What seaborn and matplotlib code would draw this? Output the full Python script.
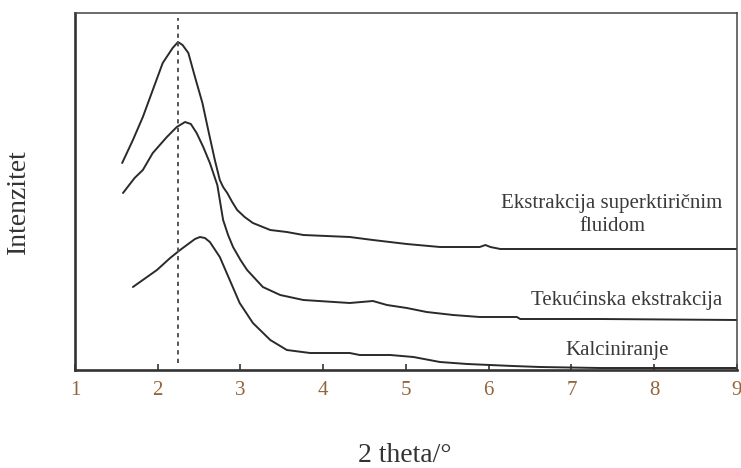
import matplotlib
matplotlib.use("Agg")
import matplotlib.pyplot as plt
import seaborn as sns
import pandas as pd

# Diffraction patterns (2 theta in degrees, intensity in arbitrary units, offset per sample)
sfe_x = [1.57, 1.70, 1.82, 1.94, 2.06, 2.18, 2.245, 2.30, 2.37, 2.45, 2.54, 2.61, 2.69,
         2.75, 2.79, 2.84, 2.90, 2.96, 3.05, 3.15, 3.36, 3.56, 3.76, 4.32, 4.60, 5.01,
         5.41, 5.89, 5.96, 6.02, 6.14, 6.62, 7.34, 9.00]
sfe_y = [207, 230, 253, 280, 307, 322, 328, 325, 317, 293, 267, 240, 210,
         190, 183, 177, 168, 160, 153, 147, 140, 138, 135, 133, 130, 126,
         123, 123, 125, 123, 121, 121, 121, 121]

liq_x = [1.58, 1.72, 1.82, 1.94, 2.11, 2.23, 2.33, 2.40, 2.47, 2.55, 2.63, 2.72, 2.79,
         2.85, 2.91, 3.00, 3.08, 3.27, 3.48, 3.76, 4.32, 4.60, 4.77, 5.01, 5.25, 5.57,
         5.89, 6.34, 6.38, 7.34, 9.00]
liq_y = [177, 192, 200, 217, 233, 243, 248, 246, 237, 223, 207, 185, 150,
         135, 123, 110, 100, 83, 75, 70, 67, 69, 65, 62, 58, 55,
         53, 53, 51, 51, 50]

cal_x = [1.70, 1.99, 2.15, 2.27, 2.45, 2.51, 2.57, 2.63, 2.75, 2.87, 2.99, 3.15, 3.36,
         3.56, 3.84, 4.32, 4.44, 4.81, 5.09, 5.41, 5.74, 6.29, 6.62, 7.34, 9.00]
cal_y = [83, 100, 112, 120, 131, 133, 132, 128, 113, 90, 67, 47, 30,
         20, 17, 17, 15, 15, 13, 8, 6, 4, 3, 2, 2]

series_names = ["Ekstrakcija superktiričnim\nfluidom", "Tekućinska ekstrakcija", "Kalciniranje"]
label_x = [7.49, 7.67, 7.55]
label_y = [155, 70, 20]

ref_line_x = 2.245
x_ticks = [1, 2, 3, 4, 5, 6, 7, 8, 9]

sns.set_theme(style="white")
plt.rcParams["font.family"] = ["Liberation Serif", "DejaVu Serif"]

fig = plt.figure(figsize=(7.41, 4.68), dpi=100)
ax = fig.add_axes([0.1012, 0.2094, 0.8934, 0.7628])

line_color = "#2a2a2a"
for xs, ys in [(sfe_x, sfe_y), (liq_x, liq_y), (cal_x, cal_y)]:
    df = pd.DataFrame({"theta": xs, "I": ys})
    sns.lineplot(data=df, x="theta", y="I", color=line_color, linewidth=1.4,
                 sort=False, estimator=None, ax=ax)

ax.plot([ref_line_x, ref_line_x], [7, 352], color="#555555", linewidth=1.4,
        linestyle=(0, (2.2, 2.2)))

for name, tx, ty in zip(series_names, label_x, label_y):
    ax.text(tx, ty, name, ha="center", va="center", fontsize=15,
            color="#3a3a3a", linespacing=1.25)

ax.set_xlim(1, 9)
ax.set_ylim(0, 357)
ax.set_xticks(x_ticks)
ax.set_xticklabels([str(t) for t in x_ticks])
ax.set_yticks([])

ax.tick_params(axis="x", direction="in", length=4, width=1.2, color="#333333",
               pad=8, labelsize=15, labelcolor="#93653a", bottom=True, top=False)

for side in ["left", "bottom"]:
    ax.spines[side].set_linewidth(1.9)
    ax.spines[side].set_color("#333333")
for side in ["top", "right"]:
    ax.spines[side].set_linewidth(1.1)
    ax.spines[side].set_color("#444444")

ax.set_xlabel("2 theta/°", fontsize=20, color="#333333")
ax.set_ylabel("Intenzitet", fontsize=20, color="#333333")
ax.xaxis.set_label_coords(0.4985, -0.204)
ax.yaxis.set_label_coords(-0.066, 0.473)

fig.savefig("out.png", dpi=100)
